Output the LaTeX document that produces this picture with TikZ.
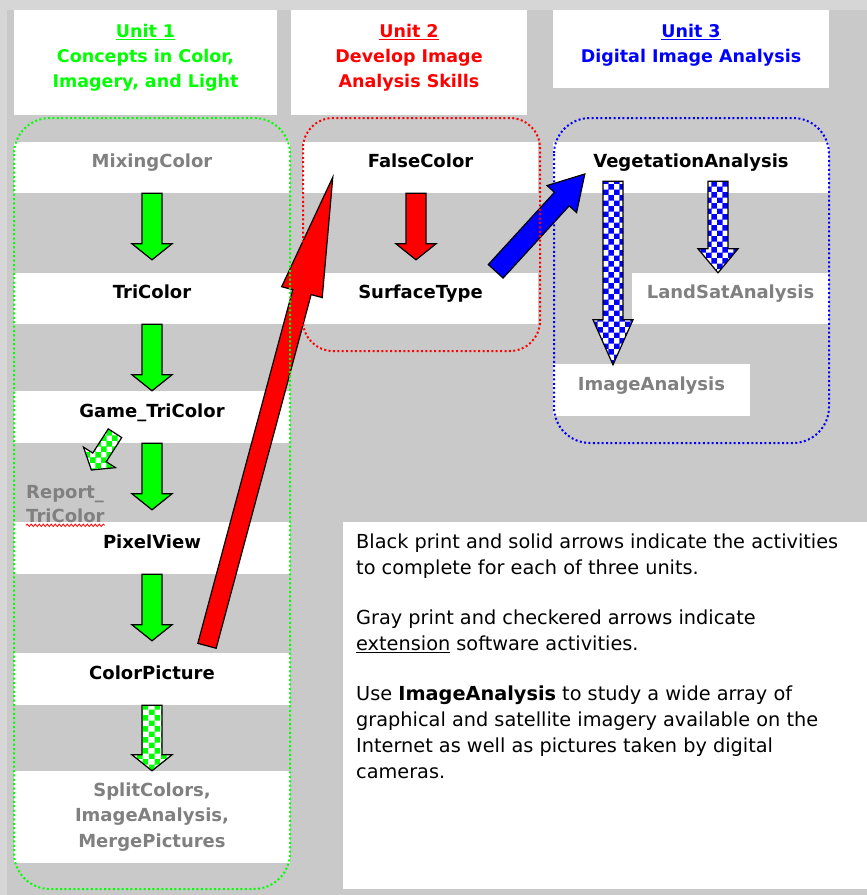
\documentclass[tikz,border=0pt]{standalone}
\usepackage{fontspec}
\setmainfont{DejaVu Sans}
\usetikzlibrary{calc,patterns,decorations.pathmorphing}
\definecolor{ugreen}{RGB}{0,255,0}
\definecolor{ured}{RGB}{255,0,0}
\definecolor{ublue}{RGB}{0,0,255}
\definecolor{bggray}{RGB}{201,201,201}
\definecolor{bglight}{RGB}{214,214,214}
\definecolor{extgray}{RGB}{128,128,128}
\pgfdeclarepatternformonly{bigchecker}{\pgfpointorigin}{\pgfqpoint{11.4pt}{11.4pt}}{\pgfqpoint{11.4pt}{11.4pt}}{%
  \pgfpathrectangle{\pgfpointorigin}{\pgfqpoint{5.75pt}{5.75pt}}%
  \pgfpathrectangle{\pgfqpoint{5.7pt}{5.7pt}}{\pgfqpoint{5.75pt}{5.75pt}}%
  \pgfusepath{fill}}
\newcommand{\blockarrow}[6]{%
\coordinate (hb) at ($(#3)!#6!(#2)$);
\draw[#1] ($(#2)!#4!90:(#3)$) -- ($(hb)!#4!90:(#3)$) -- ($(hb)!#5!90:(#3)$) -- (#3)
  -- ($(hb)!#5!-90:(#3)$) -- ($(hb)!#4!-90:(#3)$) -- ($(#2)!#4!-90:(#3)$) -- cycle;}
\tikzset{
  hdrbox/.style={fill=white,inner sep=0pt},
  hdrtext/.style={align=center,inner sep=0pt,anchor=north,font=\fontsize{17.5}{25}\selectfont\bfseries},
  bandbox/.style={fill=white,inner sep=0pt,minimum height=51pt,font=\fontsize{18}{25.5}\selectfont\bfseries},
  act/.style={bandbox,text=black,text height=13pt,text depth=13pt},
  ext/.style={bandbox,text=extgray,text height=13pt,text depth=13pt},
  extmulti/.style={bandbox,text=extgray,align=center},
  reporttext/.style={align=left,inner sep=0pt,anchor=north west,text=extgray,font=\fontsize{18}{24}\selectfont\bfseries},
  notetext/.style={align=left,inner sep=0pt,anchor=north west,font=\fontsize{19.3}{26}\selectfont},
  frame/.style={line width=2pt,dash pattern=on 2pt off 2.4pt,rounded corners=36pt},
  solidarrow/.style={draw=black,line width=1.2pt,fill=#1},
  checkarrow/.style={draw=black,line width=1.2pt,preaction={fill=white},pattern=bigchecker,pattern color=#1}
}
\begin{document}
\begin{tikzpicture}[x=1pt,y=-1pt]
\useasboundingbox (0,0) rectangle (867,895);
\fill[bglight] (0,0) rectangle (867,895);
\fill[bggray] (7,10) rectangle (867,895);

\node[hdrbox,minimum width=263pt,minimum height=105pt] (hdr1) at (145.5,62.5) {};
\node[hdrbox,minimum width=236pt,minimum height=105pt] (hdr2) at (409,62.5) {};
\node[hdrbox,minimum width=276pt,minimum height=78pt] (hdr3) at (691,49) {};
\node[hdrtext,text=ugreen] (unit1) at (145.5,24) {\underline{Unit 1}\\Concepts in Color,\\Imagery, and Light};
\node[hdrtext,text=ured] (unit2) at (409,24) {\underline{Unit 2}\\Develop Image\\Analysis Skills};
\node[hdrtext,text=ublue] (unit3) at (691,24) {\underline{Unit 3}\\Digital Image Analysis};

\node[ext,minimum width=276pt] (mixing) at (152,167.5) {MixingColor};
\node[act,minimum width=276pt] (tricolor) at (152,298.5) {TriColor};
\node[act,minimum width=276pt,minimum height=52pt] (game) at (152,417) {Game\_TriColor};
\node[act,minimum width=276pt,minimum height=52pt] (pixel) at (152,548) {PixelView};
\node[act,minimum width=276pt,minimum height=52pt] (colorpic) at (152,679) {ColorPicture};
\node[extmulti,minimum width=276pt,minimum height=92pt] (split) at (152,817) {SplitColors,\\ImageAnalysis,\\MergePictures};
\node[reporttext] (report) at (26,485) {Report\_\\TriColor};
\draw[ured,line width=0.8pt,decorate,decoration={snake,amplitude=1.2pt,segment length=4pt}]
  ($(report.south west)+(0,2.5)$) -- ($(report.south east)+(0,2.5)$);

\node[act,minimum width=235pt] (falsecol) at (420.5,167.5) {FalseColor};
\node[act,minimum width=235pt] (surface) at (420.5,298.5) {SurfaceType};

\node[act,minimum width=276pt] (veget) at (691,167.5) {VegetationAnalysis};
\node[ext,minimum width=197pt] (landsat) at (730.5,298.5) {LandSatAnalysis};
\node[ext,minimum width=197pt,minimum height=52pt] (imganal) at (651.5,390) {ImageAnalysis};

\node[fill=white,inner sep=0pt,minimum width=524pt,minimum height=367pt,anchor=north west] (notebox) at (343,522) {};
\node[notetext] (notes) at (356,534) {Black print and solid arrows indicate the activities\\to complete for each of three units.\\[24pt]Gray print and checkered arrows indicate\\\underline{extension} software activities.\\[24pt]Use \textbf{ImageAnalysis} to study a wide array of\\graphical and satellite imagery available on the\\Internet as well as pictures taken by digital\\cameras.};

\coordinate (g1) at ($(tricolor.north)+(0,-13)$);
\coordinate (g3) at ($(pixel.north)+(0,-12)$);
\coordinate (g4) at ($(colorpic.north)+(0,-12)$);
\blockarrow{solidarrow=ugreen}{mixing.south}{g1}{10pt}{20pt}{16pt}
\blockarrow{solidarrow=ugreen}{tricolor.south}{game.north}{10pt}{20pt}{16pt}
\blockarrow{solidarrow=ugreen}{game.south}{g3}{10pt}{20pt}{16pt}
\blockarrow{solidarrow=ugreen}{pixel.south}{g4}{10pt}{20pt}{16pt}
\blockarrow{checkarrow=ugreen}{colorpic.south}{split.north}{10pt}{20pt}{16pt}
\coordinate (rs) at ($(game.south)+(-37,-10)$);
\coordinate (re) at ($(report.north)+(26,-15)$);
\blockarrow{checkarrow=ugreen}{rs}{re}{8pt}{19pt}{15pt}

\coordinate (fs) at ($(falsecol.south)+(-4.5,0)$);
\coordinate (fe) at ($(surface.north)+(-4.5,-13)$);
\blockarrow{solidarrow=ured}{fs}{fe}{10pt}{20pt}{16pt}

\coordinate (vs1) at ($(veget.south)+(-78,-12)$);
\coordinate (ve1) at ($(imganal.north)+(-38.5,1)$);
\coordinate (vs2) at ($(veget.south)+(27,-12)$);
\coordinate (ve2) at ($(landsat.north)+(-12.5,0)$);
\blockarrow{checkarrow=ublue}{vs1}{ve1}{10pt}{20pt}{45pt}
\blockarrow{checkarrow=ublue}{vs2}{ve2}{10pt}{20pt}{24pt}

\coordinate (cs) at ($(colorpic.north)+(55,-7)$);
\coordinate (ce) at ($(falsecol.south west)+(30,-16)$);
\blockarrow{solidarrow=ured}{cs}{ce}{9.5pt}{21pt}{119pt}
\coordinate (ss) at ($(surface.north east)+(-42.5,-1.5)$);
\coordinate (se) at ($(veget.west)+(32,6.5)$);
\blockarrow{solidarrow=ublue}{ss}{se}{10pt}{20pt}{34pt}

\draw[frame,ugreen] (14,118) rectangle (290,889);
\draw[frame,ured,rounded corners=30pt] (303,118) rectangle (540,351);
\draw[frame,ublue] (554,118) rectangle (829,443);
\end{tikzpicture}
\end{document}
